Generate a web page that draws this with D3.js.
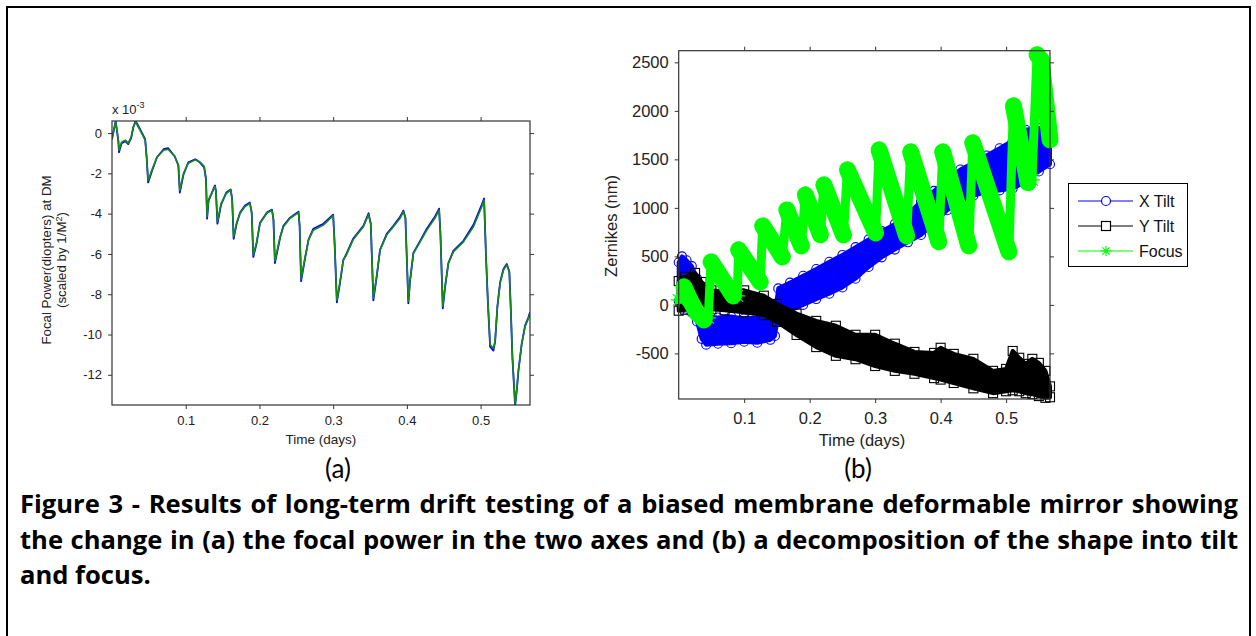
<!DOCTYPE html>
<html><head><meta charset="utf-8">
<script src="https://cdn.jsdelivr.net/npm/d3@7"></script>
<style>body{margin:0;background:#fff}svg{display:block}</style>
</head><body>
<svg id="c" width="1256" height="636"></svg>
<script>
// ---------- Panel (a): focal power (x 1e-3 diopters) ----------
const focalT = [0.000,0.005,0.0086,0.0095,0.013,0.018,0.022,0.026,0.029,0.032,0.038,0.045,0.047,0.049,0.054,0.061,0.070,0.076,0.085,0.090,
0.092,0.097,0.1035,0.113,0.119,0.125,0.1275,0.129,0.131,0.1397,0.141,0.143,0.148,0.155,0.161,0.163,0.165,0.169,0.1737,0.1805,
0.187,0.1895,0.1917,0.196,0.2008,0.21,0.217,0.219,0.221,0.228,0.2325,0.2415,0.253,0.2545,0.2565,0.262,0.2665,0.273,0.2867,0.300,
0.302,0.305,0.309,0.3138,0.318,0.327,0.341,0.348,0.351,0.3545,0.359,0.3636,0.3727,0.3817,0.3908,0.3953,0.398,0.402,0.4043,0.4088,
0.418,0.427,0.438,0.4437,0.4455,0.4487,0.4518,0.4563,0.463,0.4767,0.4903,0.5016,0.5047,0.5075,0.510,0.5129,0.5174,0.5197,0.5228,0.5265,
0.531,0.5355,0.539,0.541,0.5432,0.5468,0.549,0.5513,0.5558,0.5604,0.5649,0.567];
const focalAxis2 = [-0.25,0.55,-0.35,-0.85,-0.45,-0.35,-0.5,-0.2,0.3,0.55,0.15,-0.35,-1.2,-2.35,-1.85,-1.2,-0.85,-0.8,-1.15,-1.6,
-2.85,-2.0,-1.5,-1.33,-1.42,-1.65,-2.25,-4.15,-3.3,-2.65,-2.9,-4.4,-3.5,-3.0,-2.82,-3.3,-5.15,-4.48,-3.98,-3.65,
-3.49,-3.95,-6.05,-5.45,-4.48,-3.98,-3.82,-4.3,-6.35,-5.15,-4.65,-4.23,-3.95,-4.6,-7.25,-6.14,-5.31,-4.82,-4.57,-4.1,
-5.5,-8.3,-7.45,-6.3,-6.05,-5.3,-4.65,-4.05,-4.5,-8.2,-7.1,-5.8,-5.05,-4.65,-4.23,-3.9,-4.2,-8.35,-7.3,-5.98,
-5.4,-4.82,-4.23,-3.82,-5.0,-8.6,-7.6,-6.47,-5.9,-5.4,-4.65,-3.66,-3.32,-6.3,-8.45,-10.5,-10.7,-10.3,-8.6,-7.45,
-6.8,-6.55,-6.9,-8.8,-11.1,-13.45,-12.75,-11.8,-10.45,-9.6,-9.2,-8.95];
const focalAxis1 = [-0.3,0.6,-0.4,-0.95,-0.5,-0.4,-0.55,-0.25,0.3,0.6,0.2,-0.3,-1.2,-2.45,-1.9,-1.2,-0.8,-0.75,-1.15,-1.6,
-2.95,-2.05,-1.45,-1.3,-1.45,-1.7,-2.3,-4.25,-3.35,-2.6,-2.9,-4.5,-3.55,-2.95,-2.8,-3.3,-5.25,-4.5,-3.95,-3.6,
-3.45,-3.95,-6.15,-5.5,-4.45,-3.95,-3.8,-4.3,-6.45,-5.2,-4.6,-4.2,-3.9,-4.6,-7.35,-6.2,-5.3,-4.75,-4.5,-4.05,
-5.5,-8.4,-7.5,-6.3,-6.0,-5.25,-4.6,-3.98,-4.5,-8.3,-7.15,-5.8,-5.0,-4.6,-4.15,-3.85,-4.2,-8.45,-7.35,-5.95,
-5.35,-4.75,-4.15,-3.75,-5.0,-8.7,-7.65,-6.45,-5.85,-5.35,-4.55,-3.55,-3.25,-6.3,-8.5,-10.6,-10.8,-10.35,-8.6,-7.4,
-6.75,-6.5,-6.9,-8.8,-11.2,-13.55,-12.8,-11.8,-10.45,-9.55,-9.15,-8.9];
const xTicksA = [0.1,0.2,0.3,0.4,0.5];
const yTicksA = [-12,-10,-8,-6,-4,-2,0];

// ---------- Panel (b): Zernikes (nm), dense bands given as low/high envelopes ----------
const xTiltT  = [0,0.005,0.012,0.02,0.028,0.035,0.042,0.06,0.08,0.10,0.12,0.14,0.147,0.152,0.17,0.19,0.21,0.23,0.25,0.27,0.29,0.31,0.33,0.35,0.37,0.39,0.41,0.43,0.45,0.47,0.49,0.51,0.53,0.55,0.567];
const xTiltLo = [40,-10,-40,-80,-170,-350,-410,-400,-395,-380,-390,-360,-320,-100,-60,0,60,115,180,270,390,490,570,645,720,840,975,1060,1125,1165,1180,1200,1265,1375,1450];
const xTiltHi = [440,500,460,400,270,-10,-120,-130,-120,-140,-130,-120,-80,170,230,300,370,445,515,595,675,760,835,940,1065,1175,1290,1395,1465,1540,1615,1695,1805,1825,1755];

const yTiltT  = [0,0.01,0.025,0.035,0.05,0.07,0.10,0.13,0.15,0.18,0.21,0.24,0.27,0.30,0.33,0.36,0.39,0.40,0.42,0.45,0.48,0.50,0.51,0.52,0.53,0.54,0.55,0.56,0.567];
const yTiltLo = [-60,-50,-50,-40,-45,-55,-75,-105,-175,-310,-435,-525,-560,-630,-680,-710,-755,-770,-805,-860,-910,-890,-880,-890,-910,-920,-940,-958,-952];
const yTiltHi = [246,288,329,236,150,135,150,95,10,-90,-165,-215,-308,-308,-400,-485,-495,-442,-505,-556,-680,-660,-475,-545,-608,-556,-598,-680,-840];

const focusT = [0,0.008,0.017,0.028,0.0387,0.045,0.0495,0.0832,0.0893,0.0916,0.1245,0.1283,0.1582,0.1651,0.1873,0.1934,0.2164,0.2217,0.2516,0.2577,
0.3006,0.306,0.3481,0.3542,0.3971,0.4032,0.443,0.4491,0.5042,0.5112,0.5334,0.5395,0.5472,0.5533,0.567];
const focusV = [52,186,52,-82,-155,-134,443,93,93,567,237,814,495,979,608,1134,722,1237,722,1392,
742,1598,711,1577,650,1577,608,1670,546,2052,1258,1289,2578,2526,1701];

const xTicksB = [0.1,0.2,0.3,0.4,0.5];
const yTicksB = [-500,0,500,1000,1500,2000,2500];
const seriesNames = ["X Tilt","Y Tilt","Focus"];
const seriesColors = ["#0000ff","#000000","#00ff00"];

const FONT = "'Liberation Sans', Arial, sans-serif";
const svg = d3.select("#c");

// outer frame
svg.append("rect").attr("x",7).attr("y",7).attr("width",1243).attr("height",700)
  .attr("fill","#fff").attr("stroke","#000").attr("stroke-width",2);

function axesBox(g, xs, ys, xt, yt, fs, xpad, ypad) {
  const [x0,x1] = xs.range(), [y0,y1] = ys.range();
  const fmt = d => String(d);
  const b = g.append("g").attr("transform",`translate(0,${y0})`)
    .call(d3.axisBottom(xs).tickValues(xt).tickSize(4).tickSizeOuter(0).tickPadding(xpad).tickFormat(fmt));
  const t = g.append("g").attr("transform",`translate(0,${y1})`)
    .call(d3.axisTop(xs).tickValues(xt).tickSize(4).tickSizeOuter(0).tickFormat(""));
  const l = g.append("g").attr("transform",`translate(${x0},0)`)
    .call(d3.axisLeft(ys).tickValues(yt).tickSize(4).tickSizeOuter(0).tickPadding(ypad).tickFormat(fmt));
  const r = g.append("g").attr("transform",`translate(${x1},0)`)
    .call(d3.axisRight(ys).tickValues(yt).tickSize(4).tickSizeOuter(0).tickFormat(""));
  [b,t,l,r].forEach(a => {
    a.select(".domain").remove();
    a.selectAll("line").attr("stroke","#333");
    a.selectAll("text").attr("fill","#222").style("font-family",FONT).style("font-size",fs+"px");
  });
  g.append("rect").attr("x",x0).attr("y",y1).attr("width",x1-x0).attr("height",y0-y1)
    .attr("fill","none").attr("stroke","#333").attr("stroke-width",1.2);
}

// ---------- Panel (a) ----------
const xA = d3.scaleLinear().domain([0,0.567]).range([112,530]);
const yA = d3.scaleLinear().domain([-13.5,0.6]).range([405,121]);
const gA = svg.append("g");
svg.append("defs").append("clipPath").attr("id","clipA").append("rect")
  .attr("x",112).attr("y",121).attr("width",418).attr("height",284);
const idxA = d3.range(focalT.length);
gA.append("path").datum(idxA).attr("clip-path","url(#clipA)")
  .attr("d", d3.line().x(i=>xA(focalT[i])).y(i=>yA(focalAxis1[i])))
  .attr("fill","none").attr("stroke","#0000ff").attr("stroke-width",1.8).attr("stroke-linejoin","round");
gA.append("path").datum(idxA).attr("clip-path","url(#clipA)")
  .attr("d", d3.line().x(i=>xA(focalT[i])).y(i=>yA(focalAxis2[i])))
  .attr("fill","none").attr("stroke","#178a17").attr("stroke-width",1.6).attr("stroke-linejoin","round");
axesBox(gA, xA, yA, xTicksA, yTicksA, 13, 7, 6);
const expo = gA.append("text").attr("x",112).attr("y",114).style("font-family",FONT).style("font-size","13px").attr("fill","#222");
expo.append("tspan").text("x 10");
expo.append("tspan").attr("dy",-6).style("font-size","9px").text("-3");
gA.append("text").attr("x",321).attr("y",444).attr("text-anchor","middle")
  .style("font-family",FONT).style("font-size","13.5px").attr("fill","#222").text("Time (days)");
const yl = gA.append("text").attr("transform","translate(51,260) rotate(-90)").attr("text-anchor","middle")
  .style("font-family",FONT).style("font-size","13.3px").attr("fill","#222");
yl.append("tspan").attr("x",0).attr("y",0).text("Focal Power(diopters) at DM");
const yl2 = yl.append("tspan").attr("x",0).attr("y",15).text("(scaled by 1/M");
yl2.append("tspan").attr("dy",-4).style("font-size","9px").text("2");
yl.append("tspan").attr("dy",4).text(")");

// ---------- Panel (b) ----------
const xB = d3.scaleLinear().domain([0,0.567]).range([678.7,1050]);
const yB = d3.scaleLinear().domain([-970,2620]).range([399,50.7]);
const gB = svg.append("g");

function starPath(r){const k=r*0.72;return `M${-r},0H${r}M0,${-r}V${r}M${-k},${-k}L${k},${k}M${-k},${k}L${k},${-k}`;}

// X Tilt band
const ix = d3.range(xTiltT.length);
gB.append("path").datum(ix)
  .attr("d", d3.area().x(i=>xB(xTiltT[i])).y0(i=>yB(xTiltLo[i])).y1(i=>yB(xTiltHi[i])))
  .attr("fill","#0000ff").attr("stroke","#0000ff").attr("stroke-width",4).attr("stroke-linejoin","round");
["lo","hi"].forEach(k=>{
  gB.append("g").selectAll("circle").data(ix).join("circle")
    .attr("cx",i=>xB(xTiltT[i])).attr("cy",i=>yB(k==="lo"?xTiltLo[i]:xTiltHi[i])).attr("r",4.5)
    .attr("fill","none").attr("stroke","#0000ff").attr("stroke-width",1.1);
});
// Y Tilt band
const iy = d3.range(yTiltT.length);
gB.append("path").datum(iy)
  .attr("d", d3.area().x(i=>xB(yTiltT[i])).y0(i=>yB(yTiltLo[i])).y1(i=>yB(yTiltHi[i])))
  .attr("fill","#000").attr("stroke","#000").attr("stroke-width",4).attr("stroke-linejoin","round");
["lo","hi"].forEach(k=>{
  gB.append("g").selectAll("rect").data(iy).join("rect")
    .attr("x",i=>xB(yTiltT[i])-4.5).attr("y",i=>yB(k==="lo"?yTiltLo[i]:yTiltHi[i])-4.5)
    .attr("width",9).attr("height",9).attr("fill","none").attr("stroke","#000").attr("stroke-width",1.1);
});
// Focus: falling stretches are dense (wide), rising jumps are sparse (narrow)
const segs = d3.range(focusT.length-1);
gB.append("g").selectAll("line").data(segs).join("line")
  .attr("x1",i=>xB(focusT[i])).attr("y1",i=>yB(focusV[i]))
  .attr("x2",i=>xB(focusT[i+1])).attr("y2",i=>yB(focusV[i+1]))
  .attr("stroke","#00ff00").attr("stroke-linecap","round")
  .attr("stroke-width",i=>focusV[i+1] < focusV[i] ? 17 : 9);
const iff = d3.range(focusT.length);
gB.append("g").selectAll("path").data(iff).join("path")
  .attr("transform",i=>`translate(${xB(focusT[i])},${yB(focusV[i])})`)
  .attr("d",starPath(8)).attr("stroke","#00ff00").attr("stroke-width",1.3).attr("fill","none");

axesBox(gB, xB, yB, xTicksB, yTicksB, 16.5, 9, 6);
gB.append("text").attr("x",862).attr("y",446).attr("text-anchor","middle")
  .style("font-family",FONT).style("font-size","16.5px").attr("fill","#222").text("Time (days)");
gB.append("text").attr("transform","translate(617,226) rotate(-90)").attr("text-anchor","middle")
  .style("font-family",FONT).style("font-size","16.5px").attr("fill","#222").text("Zernikes (nm)");

// legend
const lg = gB.append("g");
lg.append("rect").attr("x",1068.5).attr("y",183.5).attr("width",119).attr("height",83)
  .attr("fill","#fff").attr("stroke","#000").attr("stroke-width",1);
seriesNames.forEach((name,i)=>{
  const y = 201 + i*25;
  lg.append("line").attr("x1",1078).attr("x2",1133).attr("y1",y).attr("y2",y)
    .attr("stroke",seriesColors[i]).attr("stroke-width",1.2);
  if(i===0) lg.append("circle").attr("cx",1106).attr("cy",y).attr("r",4.5).attr("fill","#fff").attr("stroke",seriesColors[i]).attr("stroke-width",1.2);
  if(i===1) lg.append("rect").attr("x",1101.5).attr("y",y-4.5).attr("width",9).attr("height",9).attr("fill","#fff").attr("stroke",seriesColors[i]).attr("stroke-width",1.2);
  if(i===2) lg.append("path").attr("transform",`translate(1106,${y})`).attr("d",starPath(5)).attr("stroke",seriesColors[i]).attr("stroke-width",1.2);
  lg.append("text").attr("x",1139).attr("y",y+6).style("font-family",FONT).style("font-size","16px").attr("fill","#111").text(name);
});

// ---------- sub-labels and caption ----------
const SUB = "Lato, 'Open Sans', sans-serif";
const CAP = "'Open Sans', Lato, sans-serif";
svg.append("text").attr("x",338).attr("y",478).attr("text-anchor","middle").style("font-family",SUB).style("font-size","26px").attr("fill","#000").text("(a)");
svg.append("text").attr("x",858).attr("y",478).attr("text-anchor","middle").style("font-family",SUB).style("font-size","26px").attr("fill","#000").text("(b)");
const capLines = [
 "Figure 3 - Results of long-term drift testing of a biased membrane deformable mirror showing",
 "the change in (a) the focal power in the two axes and (b) a decomposition of the shape into tilt",
 "and focus."];
const capTexts = capLines.map((s,i)=> svg.append("text").attr("x",20).attr("y",513+i*35.5)
    .style("font-family",CAP).style("font-size","22px").style("font-weight","bold").attr("fill","#000").text(s));
// choose a font size so the first line nearly fills the column, then justify with word spacing
const w0 = capTexts[0].node().getComputedTextLength();
const fsCap = Math.max(20, Math.min(27, 22 * 1190 / w0));
capTexts.forEach(t => t.style("font-size", fsCap+"px"));
capTexts.forEach((t,i)=>{
  if(i<2){
    const w = t.node().getComputedTextLength();
    const n = (capLines[i].match(/ /g)||[]).length;
    t.style("word-spacing", ((1218 - w)/n) + "px");
  }
});
</script>
</body></html>
